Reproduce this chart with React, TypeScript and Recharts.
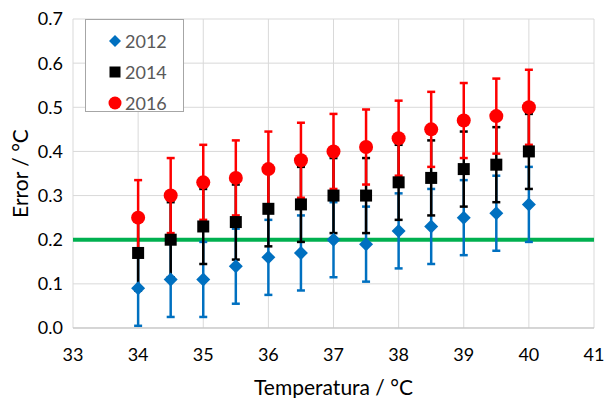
import React from 'react'
import {
  ComposedChart,
  Scatter,
  XAxis,
  YAxis,
  CartesianGrid,
  ErrorBar,
  ReferenceLine,
} from 'recharts'

// temperatures (°C) shared by all three series
const temps = [34, 34.5, 35, 35.5, 36, 36.5, 37, 37.5, 38, 38.5, 39, 39.5, 40]

const err2012 = [0.09, 0.11, 0.11, 0.14, 0.16, 0.17, 0.2, 0.19, 0.22, 0.23, 0.25, 0.26, 0.28]
const err2014 = [0.17, 0.2, 0.23, 0.24, 0.27, 0.28, 0.3, 0.3, 0.33, 0.34, 0.36, 0.37, 0.4]
const err2016 = [0.25, 0.3, 0.33, 0.34, 0.36, 0.38, 0.4, 0.41, 0.43, 0.45, 0.47, 0.48, 0.5]

// error bar half-widths (± °C)
const bars2012 = [0.085, 0.085, 0.085, 0.085, 0.085, 0.085, 0.085, 0.085, 0.085, 0.085, 0.085, 0.085, 0.085]
const bars2014 = [0.085, 0.085, 0.085, 0.085, 0.085, 0.085, 0.085, 0.085, 0.085, 0.085, 0.085, 0.085, 0.085]
const bars2016 = [0.085, 0.085, 0.085, 0.085, 0.085, 0.085, 0.085, 0.085, 0.085, 0.085, 0.085, 0.085, 0.085]

const xTicks = [33, 34, 35, 36, 37, 38, 39, 40, 41]
const yTicks = [0, 0.1, 0.2, 0.3, 0.4, 0.5, 0.6, 0.7]
const threshold = 0.2

const seriesNames = ['2012', '2014', '2016']
const seriesColors = ['#0070C0', '#000000', '#FF0000']

const toPoints = (ys: number[], errs: number[]) =>
  temps.map((t, i) => ({ x: t, y: ys[i], err: errs[i] }))

const data2012 = toPoints(err2012, bars2012)
const data2014 = toPoints(err2014, bars2014)
const data2016 = toPoints(err2016, bars2016)

const FONT = 'Lato, "Noto Sans", sans-serif'

const Diamond = (props: any) => {
  const { cx, cy, fill } = props
  const h = 7
  return <path d={`M${cx},${cy - h}L${cx + h},${cy}L${cx},${cy + h}L${cx - h},${cy}Z`} fill={fill} />
}

const Square = (props: any) => {
  const { cx, cy, fill } = props
  const s = 12
  return <rect x={cx - s / 2} y={cy - s / 2} width={s} height={s} fill={fill} />
}

const Dot = (props: any) => {
  const { cx, cy, fill } = props
  return <circle cx={cx} cy={cy} r={7} fill={fill} />
}

const LegendBox = () => {
  const icons = [
    <path key="d" d="M7,1L13,7L7,13L1,7Z" fill={seriesColors[0]} />,
    <rect key="s" x={1.5} y={1.5} width={11} height={11} fill={seriesColors[1]} />,
    <circle key="c" cx={7} cy={7} r={6.5} fill={seriesColors[2]} />,
  ]
  return (
    <div
      style={{
        position: 'absolute',
        left: 85,
        top: 19,
        width: 97,
        height: 86,
        border: '1px solid #A6A6A6',
        background: '#fff',
        fontFamily: FONT,
        fontSize: 18,
        color: '#595959',
        paddingTop: 5,
      }}
    >
      {seriesNames.map((n, i) => (
        <div key={n} style={{ display: 'flex', alignItems: 'center', height: 31, paddingLeft: 22 }}>
          <svg width={14} height={14} style={{ marginRight: 3 }}>
            {icons[i]}
          </svg>
          <span>{n}</span>
        </div>
      ))}
    </div>
  )
}

export default function App() {
  return (
    <div style={{ position: 'fixed', left: 0, top: 0, background: '#fff' }}>
      <ComposedChart
        width={606}
        height={398}
        margin={{ top: 19, right: 12, bottom: 0, left: 0 }}
      >
        <CartesianGrid stroke="#D9D9D9" strokeWidth={1} />
        <XAxis
          type="number"
          dataKey="x"
          domain={[33, 41]}
          ticks={xTicks}
          allowDataOverflow
          height={70}
          tickLine={false}
          tickMargin={14}
          axisLine={{ stroke: '#BFBFBF' }}
          tick={{ fontFamily: FONT, fontSize: 18, fill: '#000' }}
          label={{
            value: 'Temperatura / °C',
            position: 'insideBottom',
            offset: 3,
            style: { fontFamily: FONT, fontSize: 21, fill: '#000' },
          }}
        />
        <YAxis
          type="number"
          dataKey="y"
          domain={[0, 0.7]}
          ticks={yTicks}
          width={73}
          tickLine={false}
          axisLine={false}
          tickMargin={4}
          tickFormatter={(v: number) => v.toFixed(1)}
          tick={{ fontFamily: FONT, fontSize: 18, fill: '#000' }}
          label={{
            value: 'Error / °C',
            angle: -90,
            position: 'insideLeft',
            offset: 21,
            style: { fontFamily: FONT, fontSize: 21, fill: '#000', textAnchor: 'middle' },
          }}
        />
        <ReferenceLine y={threshold} stroke="#00B050" strokeWidth={4} />
        <Scatter
          name={seriesNames[0]}
          data={data2012}
          fill={seriesColors[0]}
          shape={Diamond}
          isAnimationActive={false}
        >
          <ErrorBar dataKey="err" direction="y" width={4} stroke={seriesColors[0]} strokeWidth={2.5} />
        </Scatter>
        <Scatter
          name={seriesNames[1]}
          data={data2014}
          fill={seriesColors[1]}
          shape={Square}
          isAnimationActive={false}
        >
          <ErrorBar dataKey="err" direction="y" width={4} stroke={seriesColors[1]} strokeWidth={2.5} />
        </Scatter>
        <Scatter
          name={seriesNames[2]}
          data={data2016}
          fill={seriesColors[2]}
          shape={Dot}
          isAnimationActive={false}
        >
          <ErrorBar dataKey="err" direction="y" width={4} stroke={seriesColors[2]} strokeWidth={2.5} />
        </Scatter>
      </ComposedChart>
      <LegendBox />
    </div>
  )
}
